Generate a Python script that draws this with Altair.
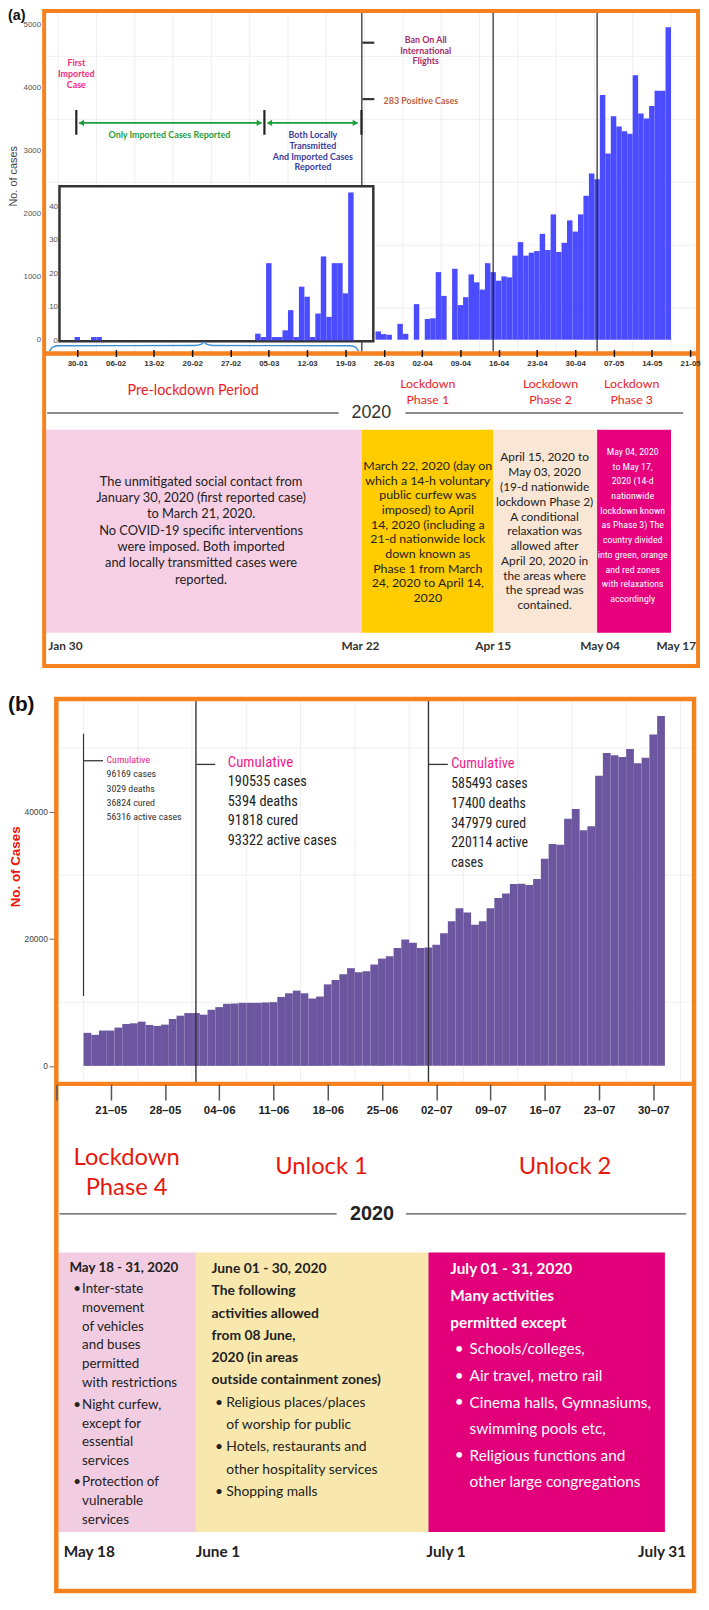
import altair as alt
import pandas as pd

# ---------------- data ----------------
inset_dates = ["2020-01-30", "2020-02-02", "2020-02-03",
               "2020-03-03", "2020-03-04", "2020-03-05", "2020-03-06", "2020-03-07",
               "2020-03-08", "2020-03-09", "2020-03-10", "2020-03-11", "2020-03-12",
               "2020-03-13", "2020-03-14", "2020-03-15", "2020-03-16", "2020-03-17",
               "2020-03-18", "2020-03-19", "2020-03-20"]
inset_cases = [1, 1, 1, 2, 1, 23, 1, 1, 3, 9, 1, 16, 13, 1, 8, 25, 7, 23, 23, 14, 44]

a_first_day = "2020-03-25"
a_cases = [131, 89, 79, 0, 251, 94, 0, 565, 0, 330,
           340, 1073, 696, 0, 1126, 550, 675, 1037, 911, 796,
           1215, 1073, 937, 1005, 990, 1335, 1550, 1335, 1382, 1408,
           1681, 1424, 1990, 1393, 1539, 1895, 1717, 1990, 2288, 2639,
           2550, 3885, 2958, 3550, 3387, 3309, 3272, 4199, 3592, 3513,
           3712, 3953, 3953, 4963]

b_first_day = "2020-05-18"
b_cases = [5192, 4881, 5556, 5556, 6023, 6594, 6698, 6957, 6438, 6282,
           6490, 7373, 7892, 8307, 8307, 8048, 8827, 9242, 9761, 9813,
           9917, 9917, 9917, 9969, 10021, 10852, 11423, 11838, 11423, 10592,
           10903, 12824, 13500, 14434, 15369, 14746, 14901, 15940, 16874, 17238,
           18536, 19886, 19367, 18536, 18640, 19055, 20872, 22741, 24818, 24143,
           22222, 22741, 24818, 26428, 27103, 28609, 28660, 28453, 29387, 32606,
           34891, 34787, 38889, 40395, 37072, 37695, 45639, 49221, 48858, 48598,
           49844, 47611, 48494, 52128, 55036]

a_ticks = ["2020-01-30", "2020-02-06", "2020-02-13", "2020-02-20", "2020-02-27",
           "2020-03-05", "2020-03-12", "2020-03-19", "2020-03-26", "2020-04-02",
           "2020-04-09", "2020-04-16", "2020-04-23", "2020-04-30", "2020-05-07",
           "2020-05-14", "2020-05-21"]
b_ticks = ["2020-05-14", "2020-05-21", "2020-05-28", "2020-06-04", "2020-06-11",
           "2020-06-18", "2020-06-25", "2020-07-02", "2020-07-09", "2020-07-16",
           "2020-07-23", "2020-07-30"]

a_events = ["2020-03-22", "2020-04-15", "2020-05-04"]
a_phase = ["Pre-lockdown", "Lockdown 1", "Lockdown 2", "Lockdown 3"]
a_phase_start = ["2020-01-24T00:00", "2020-03-22T00:00", "2020-04-15T00:00", "2020-05-04T00:00"]
a_phase_end = ["2020-03-22T00:00", "2020-04-15T00:00", "2020-05-04T00:00", "2020-05-17T12:00"]

b_events = ["2020-06-01", "2020-07-01"]
b_phase = ["Lockdown 4", "Unlock 1", "Unlock 2"]
b_phase_start = ["2020-05-14T00:00", "2020-06-01T00:00", "2020-07-01T00:00"]
b_phase_end = ["2020-06-01T00:00", "2020-07-01T00:00", "2020-07-31T12:00"]

# ---------------- styles ----------------
W, H = 700, 1594
M = 8
CAL = "Lato"
ARIAL = "Liberation Sans"
NARROW = "Liberation Sans Narrow, Roboto Condensed, DejaVu Sans Condensed, Roboto"
ORANGE = "#f5821f"
BLUE = "#4b4bff"
PURPLE = "#6b569f"
RED = "#ee1c25"
PINK = "#f4287f"
a_phase_colors = ["#f7cfe4", "#ffcc00", "#fae6d5", "#e6007e"]
b_phase_colors = ["#f2cde1", "#f8e8ad", "#e2007a"]

ONE = pd.DataFrame({"k": [0]})

PXA = 5.527   # px per day, panel (a)
PXB = 7.83    # px per day, panel (b)


def V(p):
    return alt.value(p - M)


def dt(s):
    t = pd.Timestamp(s)
    return alt.DateTime(year=t.year, month=t.month, date=t.day, hours=t.hour)


def T(lines, x, y, size, color="#333333", font=CAL, weight="normal", align="center", lh=None, angle=None):
    """y is the centre of the first line."""
    kw = dict(align=align, baseline="middle", fontSize=size, font=font, fontWeight=weight, color=color)
    if lh:
        kw["lineHeight"] = lh
    if angle is not None:
        kw["angle"] = angle
    val = lines if isinstance(lines, str) else (lines if len(lines) > 1 else lines[0])
    return alt.Chart(ONE).mark_text(**kw).encode(x=V(x), y=V(y), text=alt.value(val))


def HL(x1, x2, y, color, w):
    return alt.Chart(ONE).mark_rule(color=color, strokeWidth=w).encode(x=V(x1), x2=V(x2), y=V(y))


def VLINE(x, y1, y2, color, w):
    return alt.Chart(ONE).mark_rule(color=color, strokeWidth=w).encode(x=V(x), y=V(y1), y2=V(y2))


def FRAME(x1, x2, y1, y2, stroke, w, fill="white", fo=0):
    return alt.Chart(ONE).mark_rect(fill=fill, fillOpacity=fo, stroke=stroke, strokeWidth=w).encode(
        x=V(x1), x2=V(x2), y=V(y1), y2=V(y2))


def ARROWHEAD(x, y, shape):
    return alt.Chart(ONE).mark_point(shape=shape, filled=True, color="#1f9e3e", size=42, opacity=1).encode(
        x=V(x), y=V(y))


# ---------------- scales ----------------
xa = alt.Scale(type="time", domain=[dt("2020-01-24"), dt("2020-05-22")],
               range=[78 - 6 * PXA - M, 78 + 113 * PXA - M], nice=False)
ya = alt.Scale(domain=[0, 5000], range=[335 - M, 17 - M], nice=False, zero=False)
yi = alt.Scale(domain=[0, 40], range=[335.7 - M, 200 - M], nice=False, zero=False)
xb = alt.Scale(type="time", domain=[dt("2020-05-14"), dt("2020-08-04")],
               range=[88.2 - 4 * PXB - M, 88.2 + 78 * PXB - M], nice=False)
yb = alt.Scale(domain=[0, 40000], range=[1068.5 - M, 811.7 - M], nice=False, zero=False)

ax_xa = alt.Axis(orient="bottom", offset=(345 - M) - H, values=[dt(d) for d in a_ticks],
                 format="%d-%m", formatType="time", labelFont=ARIAL, labelFontSize=8,
                 labelFontWeight="bold", labelColor="#333333", tickColor="#111111", tickSize=7,
                 tickWidth=1.5, domain=False, grid=False, labelPadding=3, labelOverlap=False,
                 labelFlush=False, labelBound=False, title=None, zindex=3)
ax_ya = alt.Axis(orient="left", offset=-(44 - M), values=[0, 1000, 2000, 3000, 4000, 5000],
                 format="d", labelFont=ARIAL, labelFontSize=8, labelColor="#555555", ticks=False,
                 tickSize=0, domain=False, grid=False, labelPadding=3, title=None, zindex=3)
ax_yi = alt.Axis(orient="left", offset=-(60 - M), values=[0, 10, 20, 30, 40], format="d",
                 labelFont=ARIAL, labelFontSize=8, labelColor="#555555", ticks=False, tickSize=0,
                 domain=False, grid=False, labelPadding=2, title=None, zindex=3)
ax_xb = alt.Axis(orient="bottom", offset=(1087 - M) - H, values=[dt(d) for d in b_ticks],
                 format="%d\u2013%m", formatType="time",
                 labelExpr="date(datum.value) == 14 && month(datum.value) == 4 ? '' : datum.label",
                 labelFont=ARIAL, labelFontSize=11.5, labelFontWeight="bold", labelColor="#222222",
                 tickColor="#555555", tickSize=16, tickWidth=1.5, domain=False, grid=False,
                 labelPadding=5, labelOverlap=False, labelFlush=False, labelBound=False,
                 title=None, zindex=3)
ax_yb = alt.Axis(orient="left", offset=-(54.3 - M), values=[0, 20000, 40000], format="d",
                 labelFont=ARIAL, labelFontSize=8.5, labelColor="#444444", ticks=True, tickSize=5,
                 tickColor="#666666", domain=False, grid=False, labelPadding=1.5, title=None, zindex=3)

# ---------------- tables ----------------
dfa = pd.DataFrame({"day": pd.date_range(a_first_day, periods=len(a_cases)), "cases": a_cases})
dfi = pd.DataFrame({"day": pd.to_datetime(inset_dates), "cases": inset_cases})
dfb = pd.DataFrame({"day": pd.date_range(b_first_day, periods=len(b_cases)), "cases": b_cases})
for df in (dfa, dfi, dfb):
    df["start"] = df["day"] - pd.Timedelta(hours=12)
    df["end"] = df["day"] + pd.Timedelta(hours=12)

pha = pd.DataFrame({"phase": a_phase, "start": pd.to_datetime(a_phase_start, format="ISO8601"),
                    "end": pd.to_datetime(a_phase_end, format="ISO8601")})
phb = pd.DataFrame({"phase": b_phase, "start": pd.to_datetime(b_phase_start, format="ISO8601"),
                    "end": pd.to_datetime(b_phase_end, format="ISO8601")})

grid_a_days = pd.DataFrame({"d": pd.date_range("2020-01-26 12:00", "2020-05-21", freq="7D")})
grid_a_vals = pd.DataFrame({"v": [500, 1500, 2500, 3500, 4500]})
grid_b_days = pd.DataFrame({"d": pd.date_range("2020-05-17 12:00", "2020-08-03", freq="7D")})
grid_b_vals = pd.DataFrame({"v": [10000, 30000, 50000]})

brace_u = [0, 0.01, 0.03, 0.47, 0.492, 0.5, 0.508, 0.53, 0.97, 0.99, 1]
brace_v = [0, 0.45, 0.6, 0.62, 0.78, 1, 0.78, 0.62, 0.6, 0.45, 0]
brace = pd.DataFrame({"u": brace_u, "v": brace_v})

layers = []
L = layers.append

# ======================= panel (a) =======================
L(alt.Chart(grid_a_days).mark_rule(color="#ebebeb", strokeWidth=0.8).encode(
    x=alt.X("d:T", scale=xa, axis=None), y=V(5), y2=V(347)))
L(alt.Chart(grid_a_vals).mark_rule(color="#ebebeb", strokeWidth=0.8).encode(
    y=alt.Y("v:Q", scale=ya, axis=None), x=V(46), x2=V(703)))
L(alt.Chart(dfa).mark_rect(color=BLUE).encode(
    x=alt.X("start:T", scale=xa, axis=ax_xa), x2="end:T",
    y=alt.Y("cases:Q", scale=ya, axis=ax_ya), y2=alt.datum(0)))
L(alt.Chart(pd.DataFrame({"d": pd.to_datetime(a_events)})).mark_rule(color="#222222", strokeWidth=1.2).encode(
    x=alt.X("d:T", scale=xa, axis=None), y=V(5), y2=V(347)))
# inset
L(FRAME(60, 377, 180, 336.5, "#333333", 2.5, fill="white", fo=1))
L(alt.Chart(dfi).mark_rect(color=BLUE).encode(
    x=alt.X("start:T", scale=xa, axis=None), x2="end:T",
    y=alt.Y("cases:Q", scale=yi, axis=ax_yi), y2=alt.datum(0)))
L(alt.Chart(brace).mark_line(color="#3a8fd0", strokeWidth=1.4, interpolate="monotone").encode(
    x=alt.X("u:Q", scale=alt.Scale(domain=[0, 1], range=[50 - M, 362 - M]), axis=None),
    y=alt.Y("v:Q", scale=alt.Scale(domain=[0, 1], range=[346.5 - M, 337.5 - M]), axis=None)))

# top annotations
L(T(["First", "Imported", "Case"], 77, 56, 9, PINK, weight="bold", lh=11))
L(VLINE(77, 103, 128, "#222222", 2.2))
L(VLINE(267, 103, 128, "#222222", 2.2))
L(VLINE(365, 103, 128, "#222222", 2.2))
L(HL(80, 264, 116, "#1f9e3e", 1.6))
L(HL(271, 361, 116, "#1f9e3e", 1.6))
L(ARROWHEAD(82, 116, "triangle-left"))
L(ARROWHEAD(262, 116, "triangle-right"))
L(ARROWHEAD(272, 116, "triangle-left"))
L(ARROWHEAD(359, 116, "triangle-right"))
L(T("Only Imported Cases Reported", 171, 128, 9, "#1f9e3e", weight="bold"))
L(T(["Both Locally", "Transmitted", "And Imported Cases", "Reported"], 316, 128, 9, "#3b3b9c",
    weight="bold", lh=11))
L(HL(366, 378, 35, "#333333", 2.2))
L(HL(366, 378, 92, "#333333", 2.2))
L(T(["Ban On All", "International", "Flights"], 430, 32, 9, "#a62e6c", weight="bold", lh=11))
L(T("283 Positive Cases", 425, 94, 9, "#c0603e", weight="bold"))
L(T("No. of cases", 14, 170, 11, "#444444", font=ARIAL, angle=270))
L(T("(a)", 8, 8, 14.5, "#111111", font=ARIAL, weight="bold", align="left"))

# lower section (a)
L(T("Pre-lockdown Period", 195, 387, 14.5, RED))
L(T(["Lockdown", "Phase 1"], 432, 380, 12.5, RED, lh=16))
L(T(["Lockdown", "Phase 2"], 556, 380, 12.5, RED, lh=16))
L(T(["Lockdown", "Phase 3"], 638, 380, 12.5, RED, lh=16))
L(T("2020", 375, 409, 18, "#333333", font=ARIAL))
L(HL(47.5, 342, 409, "#666666", 1.5))
L(HL(409.5, 690, 409, "#666666", 1.5))
L(alt.Chart(pha).mark_rect().encode(
    x=alt.X("start:T", scale=xa, axis=None), x2="end:T", y=V(426), y2=V(631),
    color=alt.Color("phase:N", scale=alt.Scale(domain=a_phase, range=a_phase_colors), legend=None)))
L(T(["The unmitigated social contact from", "January 30, 2020 (first reported case)",
     "to March 21, 2020.", "No  COVID-19 specific interventions", "were imposed. Both imported",
     "and locally transmitted cases were", "reported."], 203, 478.3, 13, "#222222", lh=16.5))
L(T(["March 22, 2020 (day on", "which a 14-h voluntary", "public curfew was", "imposed) to April",
     "14, 2020 (including a", "21-d nationwide lock", "down known as", "Phase 1 from March",
     "24, 2020 to April 14,", "2020"], 432, 462.7, 12.5, "#222222", lh=14.8))
L(T(["April 15, 2020 to", "May 03, 2020", "(19-d nationwide", "lockdown Phase 2)", "A conditional",
     "relaxation was", "allowed after", "April 20, 2020 in", "the areas where", "the spread was",
     "contained."], 550, 454, 12, "#222222", lh=14.93))
L(T(["May 04, 2020", "to May 17,", "2020 (14-d", "nationwide", "lockdown known", "as Phase 3) The",
     "country divided", "into green, orange", "and red zones", "with relaxations", "accordingly"],
    639, 448.5, 10, "white", font=NARROW, lh=14.84))
for lab, xc in [("Jan 30", 66), ("Mar 22", 364), ("Apr 15", 498), ("May 04", 606), ("May 17", 683)]:
    L(T(lab, xc, 644, 12, "#333333", weight="bold"))
L(FRAME(44.5, 705, 3, 664.5, ORANGE, 4))
L(HL(44.5, 705, 349, ORANGE, 4.5))

# ======================= panel (b) =======================
L(alt.Chart(grid_b_days).mark_rule(color="#ebebeb", strokeWidth=0.8).encode(
    x=alt.X("d:T", scale=xb, axis=None), y=V(700), y2=V(1085)))
L(alt.Chart(grid_b_vals).mark_rule(color="#ebebeb", strokeWidth=0.8).encode(
    y=alt.Y("v:Q", scale=yb, axis=None), x=V(58), x2=V(699)))
L(alt.Chart(dfb).mark_rect(color=PURPLE).encode(
    x=alt.X("start:T", scale=xb, axis=ax_xb), x2="end:T",
    y=alt.Y("cases:Q", scale=yb, axis=ax_yb), y2=alt.datum(0)))
L(alt.Chart(pd.DataFrame({"d": pd.to_datetime(b_events)})).mark_rule(color="#333333", strokeWidth=1.4).encode(
    x=alt.X("d:T", scale=xb, axis=None), y=V(699), y2=V(1086)))
L(alt.Chart(pd.DataFrame({"d": pd.to_datetime(["2020-05-17T12:00"], format="ISO8601")})).mark_rule(
    color="#333333", strokeWidth=1.2).encode(
    x=alt.X("d:T", scale=xb, axis=None), y=V(733), y2=V(998)))
L(HL(84.3, 104, 760.3, "#333333", 1.3))
L(HL(198.3, 217.3, 764, "#333333", 1.3))
L(HL(432.3, 452.3, 764, "#333333", 1.3))
L(T("Cumulative", 107.5, 760, 10, "#ee1c8a", font=NARROW, align="left"))
L(T(["96169 cases", "3029 deaths", "36824 cured", "56316 active cases"], 107.5, 774, 10,
    "#333333", font=NARROW, align="left", lh=14.5))
L(T("Cumulative", 230, 761.7, 15, "#ee1c8a", font=NARROW, align="left"))
L(T(["190535 cases", "5394 deaths", "91818 cured", "93322 active cases"], 230, 781.7, 14.5,
    "#222222", font=NARROW, align="left", lh=19.9))
L(T("Cumulative", 455.7, 764, 14.5, "#ee1c8a", font=NARROW, align="left"))
L(T(["585493 cases", "17400 deaths", "347979 cured", "220114 active", "cases"], 455.7, 784.3, 14,
    "#222222", font=NARROW, align="left", lh=19.85))
L(T("No. of Cases", 16, 867.5, 13.5, "#e8160c", font=ARIAL, weight="bold", angle=270))
L(T("(b)", 8, 704, 21, "#111111", font=ARIAL, weight="bold", align="left"))

# lower section (b)
L(T(["Lockdown", "Phase 4"], 127.8, 1161.7, 24, "#e8170d", lh=30))
L(T("Unlock 1", 324.7, 1171, 24, "#e8170d"))
L(T("Unlock 2", 570.6, 1171, 24, "#e8170d"))
L(T("2020", 375.6, 1218.3, 20, "#222222", font=ARIAL, weight="bold"))
L(HL(60, 340, 1218, "#555555", 1.5))
L(HL(410, 693, 1218, "#555555", 1.5))
L(alt.Chart(phb).mark_rect().encode(
    x=alt.X("start:T", scale=xb, axis=None), x2="end:T", y=V(1257), y2=V(1539.3),
    color=alt.Color("phase:N", scale=alt.Scale(domain=b_phase, range=b_phase_colors), legend=None)))
# pink box
L(T("May 18 - 31, 2020", 70, 1272.7, 13.5, "#222222", weight="bold", align="left"))
for yb_ in (1294.3, 1410.7, 1489):
    L(T("\u2022", 73.8, yb_, 13.5, "#222222", align="left"))
L(T(["Inter-state", "movement", "of vehicles", "and buses", "permitted", "with restrictions"],
    82.8, 1294.3, 13.5, "#222222", align="left", lh=18.9))
L(T(["Night curfew,", "except for", "essential", "services"], 82.8, 1410.7, 13.5, "#222222",
    align="left", lh=19.1))
L(T(["Protection of", "vulnerable", "services"], 82.8, 1489, 13.5, "#222222", align="left", lh=19.35))
# yellow box
L(T(["June 01 - 30, 2020", "The following", "activities allowed", "from 08 June,", "2020 (in areas",
     "outside containment zones)"], 213.6, 1274, 14, "#222222", weight="bold", align="left", lh=22.4))
for yb_ in (1409, 1453.7, 1499):
    L(T("\u2022", 217, yb_, 14, "#222222", align="left"))
L(T(["Religious places/places", "of worship for public"], 228.5, 1409, 14, "#222222", align="left", lh=22.7))
L(T(["Hotels, restaurants and", "other hospitality services"], 228.5, 1453.7, 14, "#222222",
    align="left", lh=23))
L(T("Shopping malls", 228.5, 1499, 14, "#222222", align="left"))
# magenta box
L(T(["July 01 - 31, 2020", "Many activities", "permitted except"], 454.8, 1274, 15.5, "white",
    weight="bold", align="left", lh=27.15))
for yb_ in (1355, 1381.7, 1408.3, 1462):
    L(T("\u2022", 459.3, yb_, 15.5, "white", align="left"))
L(T(["Schools/colleges,", "Air travel, metro rail", "Cinema halls, Gymnasiums,", "swimming pools etc,",
     "Religious functions and", "other large congregations"], 474.2, 1355, 15.5, "white",
    align="left", lh=26.8))
L(T("May 18", 64.3, 1560, 15.5, "#222222", weight="bold", align="left"))
L(T("June 1", 197.7, 1560, 15.5, "#222222", weight="bold", align="left"))
L(T("July 1", 430.8, 1560, 15.5, "#222222", weight="bold", align="left"))
L(T("July 31", 693, 1560, 15.5, "#222222", weight="bold", align="right"))
L(FRAME(56.8, 701, 698, 1599, ORANGE, 4.5))
L(HL(56.8, 701, 1086.7, ORANGE, 4.5))

chart = alt.layer(*layers).resolve_scale(
    x="independent", y="independent", color="independent"
).resolve_axis(
    x="independent", y="independent"
).properties(
    width=W, height=H, autosize=alt.AutoSizeParams(type="none"), padding=0, background="white"
).configure_view(stroke=None)

chart.save("out.html", embed_options={"renderer": "svg", "actions": False})
